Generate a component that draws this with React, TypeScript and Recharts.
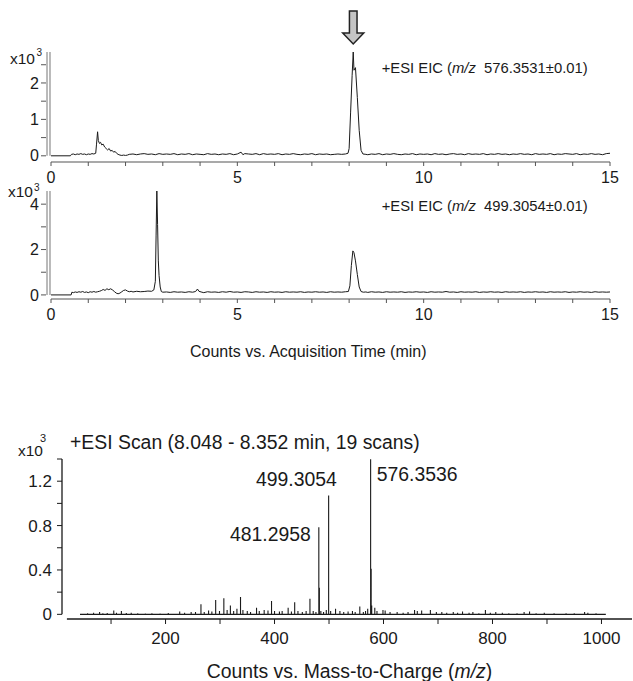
import React from 'react';
import { LineChart, Line, XAxis, YAxis, ReferenceLine, ReferenceDot } from 'recharts';

const FONT = '"Liberation Sans", Arial, Helvetica, sans-serif';
const INK = '#1a1a1a';
const AXIS_GRAY = '#8c8c8c';
const TICK_GRAY = '#555555';

// ---- Chromatogram 1: +ESI EIC (m/z 576.3531 ± 0.01), [time(min), counts x10^3]
const EIC576: [number, number][] = [
  [0, 0], [0.52, 0], [0.55, 0.04], [0.6, 0.05], [0.65, 0.03], [0.7, 0.05], [0.75, 0.04], [0.8, 0.06],
  [0.85, 0.04], [0.9, 0.05], [0.95, 0.03], [1.0, 0.05], [1.05, 0.04], [1.1, 0.06], [1.15, 0.05], [1.2, 0.07],
  [1.22, 0.3], [1.25, 0.66], [1.27, 0.42], [1.3, 0.34], [1.33, 0.37], [1.36, 0.3], [1.4, 0.32], [1.44, 0.24],
  [1.48, 0.2], [1.52, 0.16], [1.56, 0.2], [1.6, 0.13], [1.64, 0.15], [1.68, 0.1], [1.72, 0.12], [1.76, 0.07],
  [1.8, 0.04], [1.85, 0.02], [1.9, 0.01], [1.95, 0.02], [2.0, 0.01], [2.05, 0.02], [2.1, 0.04], [2.2, 0.05],
  [2.3, 0.03], [2.4, 0.05], [2.5, 0.06], [2.6, 0.04], [2.7, 0.05], [2.8, 0.03], [2.9, 0.06], [3.0, 0.04],
  [3.1, 0.05], [3.2, 0.04], [3.3, 0.06], [3.4, 0.03], [3.5, 0.05], [3.6, 0.04], [3.7, 0.06], [3.8, 0.03],
  [3.9, 0.05], [4.0, 0.04], [4.1, 0.03], [4.2, 0.06], [4.3, 0.04], [4.4, 0.05], [4.5, 0.03], [4.6, 0.05],
  [4.7, 0.04], [4.8, 0.06], [4.9, 0.03], [5.0, 0.05], [5.1, 0.1], [5.15, 0.03], [5.2, 0.06], [5.3, 0.05],
  [5.4, 0.04], [5.5, 0.06], [5.6, 0.03], [5.7, 0.06], [5.8, 0.04], [5.9, 0.05], [6.0, 0.04], [6.1, 0.06],
  [6.2, 0.03], [6.3, 0.05], [6.4, 0.04], [6.5, 0.06], [6.6, 0.04], [6.7, 0.03], [6.8, 0.05], [6.9, 0.04],
  [7.0, 0.06], [7.1, 0.03], [7.2, 0.05], [7.3, 0.04], [7.4, 0.05], [7.5, 0.03], [7.6, 0.04], [7.7, 0.05],
  [7.8, 0.04], [7.9, 0.05], [7.97, 0.07], [8.0, 0.2], [8.04, 1.2], [8.08, 2.2], [8.11, 2.85], [8.13, 2.35],
  [8.17, 2.42], [8.22, 1.6], [8.27, 0.7], [8.32, 0.15], [8.37, 0.05], [8.45, 0.04], [8.5, 0.03], [8.6, 0.05],
  [8.7, 0.04], [8.8, 0.06], [8.9, 0.03], [9.0, 0.05], [9.1, 0.04], [9.2, 0.06], [9.3, 0.04], [9.4, 0.03],
  [9.5, 0.05], [9.6, 0.04], [9.7, 0.06], [9.8, 0.03], [9.9, 0.05], [10.0, 0.04], [10.1, 0.05], [10.2, 0.03],
  [10.3, 0.06], [10.4, 0.04], [10.5, 0.05], [10.6, 0.03], [10.7, 0.05], [10.8, 0.06], [10.9, 0.04], [11.0, 0.05],
  [11.1, 0.03], [11.2, 0.06], [11.3, 0.04], [11.4, 0.05], [11.5, 0.04], [11.6, 0.06], [11.7, 0.03], [11.8, 0.05],
  [11.9, 0.04], [12.0, 0.06], [12.1, 0.04], [12.2, 0.05], [12.3, 0.03], [12.4, 0.05], [12.5, 0.04], [12.6, 0.06],
  [12.7, 0.04], [12.8, 0.05], [12.9, 0.03], [13.0, 0.06], [13.1, 0.04], [13.2, 0.05], [13.3, 0.04], [13.4, 0.06],
  [13.5, 0.03], [13.6, 0.05], [13.7, 0.04], [13.8, 0.06], [13.9, 0.05], [14.0, 0.04], [14.1, 0.06], [14.2, 0.03],
  [14.3, 0.05], [14.4, 0.04], [14.5, 0.06], [14.6, 0.04], [14.7, 0.05], [14.8, 0.03], [14.9, 0.06], [15.0, 0.07],
];

// ---- Chromatogram 2: +ESI EIC (m/z 499.3054 ± 0.01), [time(min), counts x10^3]
const EIC499: [number, number][] = [
  [0, 0], [0.54, 0], [0.56, 0.12], [0.6, 0.1], [0.65, 0.13], [0.7, 0.11], [0.75, 0.14], [0.8, 0.12],
  [0.85, 0.15], [0.9, 0.11], [0.95, 0.13], [1.0, 0.1], [1.05, 0.14], [1.1, 0.12], [1.15, 0.15], [1.2, 0.12],
  [1.25, 0.14], [1.3, 0.16], [1.35, 0.19], [1.4, 0.24], [1.45, 0.2], [1.5, 0.27], [1.55, 0.23], [1.6, 0.27],
  [1.65, 0.22], [1.7, 0.15], [1.75, 0.08], [1.8, 0.05], [1.85, 0.08], [1.9, 0.14], [1.95, 0.2], [2.0, 0.22],
  [2.05, 0.17], [2.1, 0.14], [2.15, 0.16], [2.2, 0.13], [2.3, 0.16], [2.4, 0.14], [2.5, 0.15], [2.6, 0.17],
  [2.7, 0.16], [2.76, 0.22], [2.8, 0.6], [2.82, 2.6], [2.84, 4.58], [2.86, 3.1], [2.88, 1.5], [2.9, 0.85],
  [2.93, 0.35], [2.96, 0.15], [3.0, 0.12], [3.1, 0.13], [3.2, 0.11], [3.3, 0.14], [3.4, 0.12], [3.5, 0.13],
  [3.6, 0.11], [3.7, 0.14], [3.8, 0.12], [3.88, 0.15], [3.93, 0.26], [3.97, 0.16], [4.05, 0.12], [4.1, 0.1],
  [4.2, 0.14], [4.3, 0.12], [4.4, 0.13], [4.5, 0.11], [4.6, 0.14], [4.7, 0.12], [4.8, 0.15], [4.9, 0.12],
  [5.0, 0.13], [5.1, 0.11], [5.2, 0.14], [5.3, 0.13], [5.4, 0.11], [5.5, 0.14], [5.6, 0.12], [5.7, 0.13],
  [5.8, 0.11], [5.9, 0.14], [6.0, 0.12], [6.1, 0.13], [6.2, 0.11], [6.3, 0.14], [6.4, 0.12], [6.5, 0.13],
  [6.6, 0.12], [6.7, 0.14], [6.8, 0.11], [6.9, 0.13], [7.0, 0.12], [7.1, 0.14], [7.2, 0.12], [7.3, 0.13],
  [7.4, 0.11], [7.5, 0.14], [7.6, 0.12], [7.7, 0.13], [7.8, 0.12], [7.9, 0.14], [7.98, 0.15], [8.02, 0.4],
  [8.06, 1.3], [8.1, 1.94], [8.13, 1.86], [8.17, 1.5], [8.22, 0.9], [8.27, 0.35], [8.32, 0.15], [8.38, 0.12],
  [8.45, 0.13], [8.5, 0.11], [8.6, 0.14], [8.7, 0.12], [8.8, 0.13], [8.9, 0.11], [9.0, 0.14], [9.1, 0.12],
  [9.2, 0.13], [9.3, 0.12], [9.4, 0.14], [9.5, 0.11], [9.6, 0.13], [9.7, 0.12], [9.8, 0.14], [9.9, 0.12],
  [10.0, 0.13], [10.1, 0.11], [10.2, 0.14], [10.3, 0.12], [10.4, 0.13], [10.5, 0.12], [10.6, 0.15], [10.7, 0.12],
  [10.8, 0.13], [10.9, 0.11], [11.0, 0.14], [11.1, 0.12], [11.2, 0.13], [11.3, 0.12], [11.4, 0.14], [11.5, 0.11],
  [11.6, 0.13], [11.7, 0.12], [11.8, 0.14], [11.9, 0.12], [12.0, 0.13], [12.1, 0.11], [12.2, 0.14], [12.3, 0.12],
  [12.4, 0.13], [12.5, 0.12], [12.6, 0.14], [12.7, 0.11], [12.8, 0.13], [12.9, 0.12], [13.0, 0.14], [13.1, 0.12],
  [13.2, 0.13], [13.3, 0.11], [13.4, 0.14], [13.5, 0.12], [13.6, 0.13], [13.7, 0.12], [13.8, 0.14], [13.9, 0.11],
  [14.0, 0.13], [14.1, 0.12], [14.2, 0.14], [14.3, 0.12], [14.4, 0.13], [14.5, 0.11], [14.6, 0.14], [14.7, 0.12],
  [14.8, 0.13], [14.9, 0.12], [15.0, 0.13],
];

// ---- Mass spectrum: +ESI Scan (8.048 - 8.352 min), [m/z, counts x10^3]
const MS_RANGE: [number, number] = [43, 1008];
const MS_PEAKS: [number, number][] = [
  [57, 0.01], [68, 0.015], [79, 0.02], [85, 0.01], [93, 0.012], [105, 0.035], [110, 0.015], [119, 0.03],
  [128, 0.012], [137, 0.015], [149, 0.01], [163, 0.008], [175, 0.01], [190, 0.008], [205, 0.012], [226, 0.025],
  [235, 0.015], [247, 0.02], [255, 0.02], [265, 0.09], [271, 0.02], [279, 0.035], [285, 0.025], [292, 0.13],
  [299, 0.03], [307, 0.145], [313, 0.04], [319, 0.08], [325, 0.03], [331, 0.05], [337.6, 0.157], [342, 0.04],
  [350, 0.03], [356, 0.02], [367, 0.06], [372, 0.03], [381, 0.04], [388, 0.035], [394.5, 0.12], [400, 0.03],
  [409, 0.025], [414, 0.03], [425, 0.06], [431, 0.025], [437, 0.11], [443, 0.03], [451, 0.02], [458, 0.03],
  [465, 0.14], [471, 0.03], [476, 0.02], [481.2958, 0.784], [482.3, 0.24], [485, 0.03], [490, 0.02], [495, 0.04],
  [499.3054, 1.07], [503, 0.03], [512, 0.05], [520, 0.03], [527, 0.02], [535, 0.025], [543, 0.03], [548, 0.02],
  [556.5, 0.07], [563, 0.02], [567, 0.03], [571, 0.05], [576.3536, 1.397], [577.35, 0.41], [578.35, 0.08], [584, 0.06],
  [588, 0.03], [599, 0.04], [603, 0.035], [612, 0.02], [625, 0.02], [636, 0.015], [645, 0.02], [657, 0.04],
  [662, 0.03], [670, 0.035], [686, 0.04], [697, 0.02], [707, 0.02], [716, 0.015], [728, 0.02], [736, 0.015],
  [745, 0.025], [757, 0.015], [764, 0.02], [775, 0.01], [787, 0.04], [796, 0.015], [806, 0.02], [818, 0.015],
  [830, 0.01], [845, 0.01], [858, 0.02], [868, 0.025], [880, 0.01], [895, 0.015], [913, 0.01], [935, 0.01],
  [950, 0.01], [969, 0.02], [975, 0.015], [990, 0.01],
];

// ---- Ticks
const TIME_TICKS = [0, 1, 2, 3, 4, 5, 6, 7, 8, 9, 10, 11, 12, 13, 14, 15];
const TIME_LABELS = [0, 5, 10, 15];
const EIC1_Y_TICKS = [0, 0.5, 1, 1.5, 2, 2.5];
const EIC1_Y_LABELS = [0, 1, 2];
const EIC2_Y_TICKS = [0, 1, 2, 3, 4];
const EIC2_Y_LABELS = [0, 2, 4];
const MZ_TICKS = [100, 200, 300, 400, 500, 600, 700, 800, 900, 1000];
const MZ_LABELS = [200, 400, 600, 800, 1000];
const MS_Y_TICKS = [0, 0.2, 0.4, 0.6, 0.8, 1.0, 1.2, 1.4];
const MS_Y_LABELS = [0, 0.4, 0.8, 1.2];

const ARROW_PEAK = { t: 8.11, v: 2.85 };

const eic576Data = EIC576.map(([t, v]) => ({ t, v }));
const eic499Data = EIC499.map(([t, v]) => ({ t, v }));
const msData = (() => {
  const out: { mz: number; v: number }[] = [{ mz: MS_RANGE[0], v: 0 }];
  MS_PEAKS.forEach(([mz, h]) => {
    out.push({ mz, v: 0 }, { mz, v: h }, { mz, v: 0 });
  });
  out.push({ mz: MS_RANGE[1], v: 0 });
  return out;
})();

function GrayYTick(props: any) {
  const { x, y, payload, labels } = props;
  const show = labels.includes(payload.value);
  return (
    <g>
      <line x1={x + 2} x2={x + 7} y1={y} y2={y} stroke={TICK_GRAY} strokeWidth={1} />
      {show && (
        <text x={x} y={y} dy="0.355em" textAnchor="end" fontSize={16} fill={INK}>
          {payload.value}
        </text>
      )}
    </g>
  );
}

function ArrowShape(props: any) {
  const { cx, cy } = props;
  if (cx == null || cy == null) return null;
  const tip = cy - 8;
  const headTop = tip - 11;
  const shaftTop = tip - 33;
  const pts = [
    [cx - 3.8, shaftTop], [cx + 3.8, shaftTop], [cx + 3.8, headTop], [cx + 10.5, headTop],
    [cx, tip], [cx - 10.5, headTop], [cx - 3.8, headTop],
  ].map((p) => p.join(',')).join(' ');
  return <polygon points={pts} fill="#c4c4c4" stroke="#222" strokeWidth={1.5} strokeLinejoin="miter" />;
}

function EicChart(props: {
  data: { t: number; v: number }[];
  yDomain: [number, number];
  yTicks: number[];
  yLabels: number[];
  height: number;
  marginTop: number;
  arrow?: boolean;
}) {
  const { data, yDomain, yTicks, yLabels, height, marginTop, arrow } = props;
  return (
    <LineChart width={633} height={height} data={data} margin={{ top: marginTop, right: 23, bottom: 0, left: 0 }}>
      <XAxis
        dataKey="t"
        type="number"
        domain={[0, 15]}
        ticks={TIME_TICKS}
        interval={0}
        allowDataOverflow
        tickFormatter={(v: number) => (TIME_LABELS.includes(v) ? String(v) : '')}
        axisLine={{ stroke: AXIS_GRAY, strokeWidth: 1.3 }}
        tickLine={{ stroke: TICK_GRAY }}
        tickSize={4}
        tickMargin={6}
        tick={{ fontSize: 16, fill: INK }}
        height={30}
      />
      <YAxis
        type="number"
        domain={yDomain}
        ticks={yTicks}
        interval={0}
        allowDataOverflow
        width={51}
        axisLine={false}
        tickLine={false}
        tickSize={10}
        tickMargin={2}
        tick={(p: any) => <GrayYTick {...p} labels={yLabels} />}
      />
      <ReferenceLine
        segment={[{ x: -0.027, y: 0 }, { x: -0.027, y: yDomain[1] }]}
        stroke={AXIS_GRAY}
        strokeWidth={1.2}
        ifOverflow="visible"
      />
      <ReferenceLine
        segment={[{ x: -0.107, y: 0 }, { x: -0.107, y: yDomain[1] }]}
        stroke={AXIS_GRAY}
        strokeWidth={1.2}
        ifOverflow="visible"
      />
      <Line dataKey="v" type="linear" dot={false} stroke={INK} strokeWidth={1} isAnimationActive={false} />
      {arrow && (
        <ReferenceDot x={ARROW_PEAK.t} y={ARROW_PEAK.v} r={0} ifOverflow="visible" shape={ArrowShape} />
      )}
    </LineChart>
  );
}

const txt = (left: number, top: number, size: number, extra: React.CSSProperties = {}): React.CSSProperties => ({
  position: 'absolute',
  left,
  top,
  fontSize: size,
  lineHeight: 1,
  whiteSpace: 'pre',
  color: INK,
  ...extra,
});

export default function App() {
  return (
    <div
      style={{
        position: 'absolute',
        left: 0,
        top: 0,
        width: 633,
        height: 681,
        background: '#ffffff',
        fontFamily: FONT,
        overflow: 'hidden',
      }}
    >
      <div style={{ position: 'absolute', left: 0, top: 0 }}>
        <EicChart
          data={eic576Data}
          yDomain={[-0.17, 2.85]}
          yTicks={EIC1_Y_TICKS}
          yLabels={EIC1_Y_LABELS}
          height={192}
          marginTop={52}
          arrow
        />
      </div>
      <div style={{ position: 'absolute', left: 0, top: 180 }}>
        <EicChart
          data={eic499Data}
          yDomain={[-0.18, 4.58]}
          yTicks={EIC2_Y_TICKS}
          yLabels={EIC2_Y_LABELS}
          height={149}
          marginTop={11}
        />
      </div>
      <div style={{ position: 'absolute', left: 0, top: 430 }}>
        <LineChart width={633} height={219} data={msData} margin={{ top: 29, right: 1, bottom: 0, left: 0 }}>
          <XAxis
            dataKey="mz"
            type="number"
            domain={[10, 1056]}
            ticks={MZ_TICKS}
            interval={0}
            allowDataOverflow
            tickFormatter={(v: number) => (MZ_LABELS.includes(v) ? String(v) : '')}
            axisLine={false}
            tickLine={{ stroke: INK }}
            tickSize={5}
            tickMargin={8}
            tick={{ fontSize: 17, fill: INK }}
            height={30}
          />
          <YAxis
            type="number"
            domain={[-0.042, 1.4]}
            ticks={MS_Y_TICKS}
            interval={0}
            allowDataOverflow
            width={62}
            axisLine={false}
            tickLine={{ stroke: INK }}
            tickSize={5}
            tickMargin={5}
            tickFormatter={(v: number) => (MS_Y_LABELS.includes(v) ? (v === 0 ? '0' : v.toFixed(1)) : '')}
            tick={{ fontSize: 17, fill: INK }}
          />
          <ReferenceLine segment={[{ x: 10, y: 0 }, { x: 10, y: 1.4 }]} stroke={INK} strokeWidth={1.3} ifOverflow="visible" />
          <ReferenceLine segment={[{ x: 19, y: -0.042 }, { x: 1056, y: -0.042 }]} stroke={INK} strokeWidth={1.3} ifOverflow="visible" />
          <Line dataKey="v" type="linear" dot={false} stroke={INK} strokeWidth={1.1} isAnimationActive={false} />
        </LineChart>
      </div>

      {/* Panel 1 texts */}
      <div style={txt(10, 50.5, 15.5)}>x10</div>
      <div style={txt(36.5, 48, 10)}>3</div>
      <div style={txt(381.7, 60.6, 14.8)}>
        +ESI EIC (<i>m/z</i>  576.3531±0.01)
      </div>

      {/* Panel 2 texts */}
      <div style={txt(8, 184, 15.5)}>x10</div>
      <div style={txt(34, 183, 10)}>3</div>
      <div style={txt(381.7, 199.3, 14.8)}>
        +ESI EIC (<i>m/z</i>  499.3054±0.01)
      </div>
      <div style={txt(190, 343.7, 16)}>Counts vs. Acquisition Time (min)</div>

      {/* Mass spectrum texts */}
      <div style={txt(18, 443, 15.5)}>x10</div>
      <div style={txt(40, 432.5, 11)}>3</div>
      <div style={txt(70, 433.3, 19.4)}>+ESI Scan (8.048 - 8.352 min, 19 scans)</div>
      <div style={txt(230, 525.3, 19.4)}>481.2958</div>
      <div style={txt(256, 470.3, 19.4)}>499.3054</div>
      <div style={txt(376.7, 465.3, 19.4)}>576.3536</div>
      <div style={txt(206.7, 661.8, 19.4)}>
        Counts vs. Mass-to-Charge (<i>m/z</i>)
      </div>
    </div>
  );
}
